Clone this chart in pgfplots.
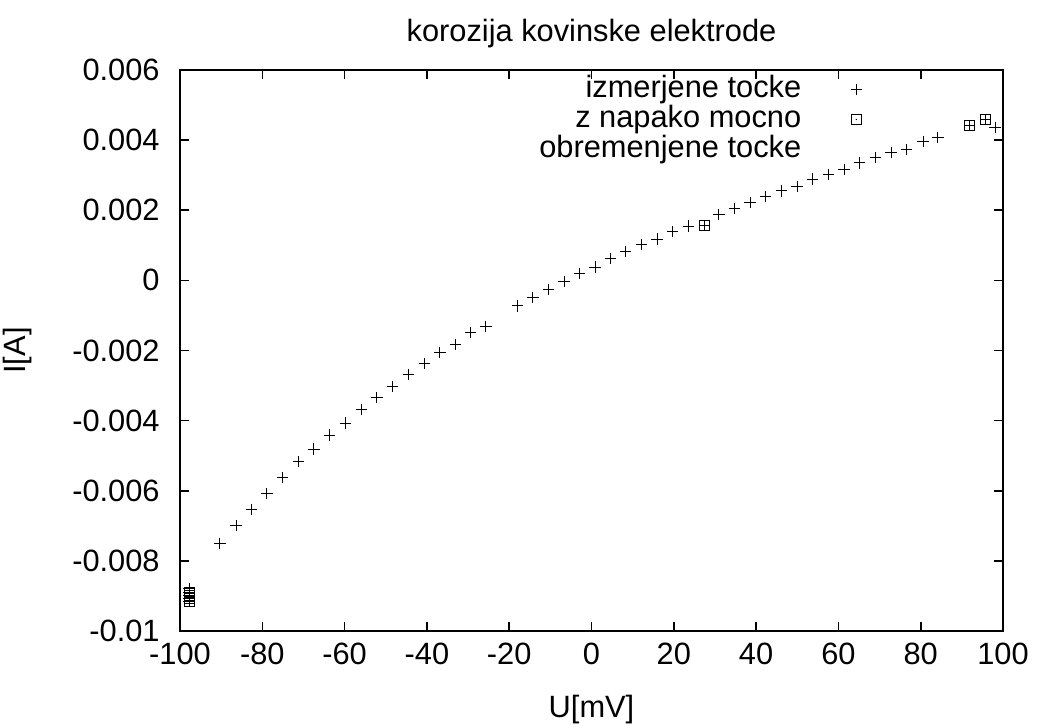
\documentclass[border=0pt]{standalone}
\usepackage{pgfplots}
\pgfplotsset{compat=1.18}
\usepackage{fontspec}
\setmainfont{Liberation Sans}
\pgfdeclareplotmark{sqdot}{%
  \pgfpathrectangle{\pgfqpoint{-\pgfplotmarksize}{-\pgfplotmarksize}}{\pgfqpoint{2\pgfplotmarksize}{2\pgfplotmarksize}}%
  \pgfusepathqstroke
  \pgfpathcircle{\pgfpointorigin}{0.35pt}%
  \pgfusepathqfill}
\begin{document}
\fontsize{15.4pt}{18.5pt}\selectfont
\begin{tikzpicture}
\path[use as bounding box] (-90pt,-46.5pt) rectangle (428.5pt,315.5pt);
\begin{axis}[
  at={(0,0)}, anchor=south west,
  scale only axis, width=411.5pt, height=280.5pt,
  xmin=-100, xmax=100, ymin=-0.01, ymax=0.006,
  xtick={-100,-80,...,100},
  xticklabels={-100,-80,-60,-40,-20,0,20,40,60,80,100},
  ytick={-0.01,-0.008,-0.006,-0.004,-0.002,0,0.002,0.004,0.006},
  yticklabels={-0.01,-0.008,-0.006,-0.004,-0.002,0,0.002,0.004,0.006},
  scaled y ticks=false, scaled x ticks=false,
  tick align=inside, major tick length=4.5pt,
  axis line style={line width=0.8pt},
  every tick/.style={line width=0.8pt, black},
  yticklabel style={inner sep=0pt, anchor=east, xshift=-10pt},
  xticklabel style={inner sep=0pt, anchor=north, yshift=-6pt},
  title={korozija kovinske elektrode},
  title style={at={(axis description cs:0.5,1)}, anchor=center, yshift=12pt, inner sep=0pt},
  xlabel={U[mV]},
  xlabel style={at={(axis description cs:0.5,0)}, anchor=center, yshift=-39.5pt, inner sep=0pt},
  ylabel={I[A]},
  ylabel style={at={(axis description cs:0,0.5)}, anchor=center, yshift=81pt, inner sep=0pt},
  legend style={at={(axis description cs:0.8286,0.992)}, anchor=north east, draw=none, fill=none,
    inner sep=0pt, outer sep=0pt, column sep=19pt, row sep=0pt,
    nodes={inner sep=0pt, text height=11.5pt, text depth=3.5pt}},
  legend plot pos=right,
  legend cell align=right,
]
\addplot[only marks, mark=+, mark size=2.8pt, mark options={line width=0.5pt}, black] coordinates {
(-97.8,-0.00879) (-97.8,-0.00890) (-97.8,-0.00899) (-97.8,-0.00907) (-97.8,-0.00916)
(-90.28,-0.00751) (-86.39,-0.00699) (-82.67,-0.00653) (-78.86,-0.00607) (-75.04,-0.00562)
(-71.25,-0.00517) (-67.44,-0.00481) (-63.72,-0.00441) (-59.83,-0.00407) (-55.84,-0.00368)
(-52.13,-0.00335) (-48.31,-0.00302) (-44.52,-0.00269) (-40.63,-0.00238) (-36.82,-0.00206)
(-33.10,-0.00183) (-29.36,-0.00149) (-25.64,-0.00131) (-17.93,-0.00073) (-14.22,-0.00048)
(-10.50,-0.00025) (-6.68,-0.00003) (-2.96,0.00020) (0.85,0.00038) (4.57,0.00062)
(8.31,0.00083) (12.10,0.00102) (15.92,0.00118) (19.64,0.00139) (23.52,0.00155)
(27.41,0.00157) (30.98,0.00188) (34.80,0.00205) (38.52,0.00223) (42.33,0.00240)
(46.12,0.00255) (49.94,0.00268) (53.66,0.00289) (57.55,0.00302) (61.36,0.00317)
(65.08,0.00335) (68.96,0.00350) (72.78,0.00364) (76.50,0.00374) (80.56,0.00397)
(84.20,0.00407) (91.91,0.00442) (95.79,0.00459) (98.06,0.00437)
};
\addlegendentry{izmerjene tocke}
\addplot[only marks, mark=sqdot, mark size=2.5pt, mark options={line width=0.5pt}, black] coordinates {
(-97.8,-0.00890) (-97.8,-0.00899) (-97.8,-0.00907) (-97.8,-0.00916)
(27.41,0.00157) (91.91,0.00442) (95.79,0.00459)
};
\addlegendentry{z napako mocno}
\addlegendimage{empty legend}
\addlegendentry{obremenjene tocke}
\end{axis}
\end{tikzpicture}
\end{document}
